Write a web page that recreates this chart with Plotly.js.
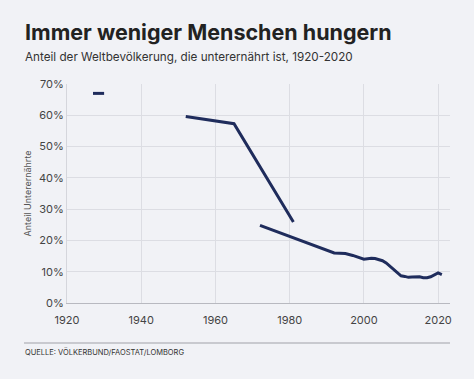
<!DOCTYPE html>
<html><head><meta charset="utf-8">
<script src="https://cdn.plot.ly/plotly-3.0.1.min.js"></script>
<style>html,body{margin:0;padding:0;background:#f1f2f6;}#c{width:474px;height:379px;}</style>
</head><body><div id="c"></div>
<script>
const yearsA = [1927, 1930];
const valsA = [67, 67];
const yearsB = [1952, 1965, 1981];
const valsB = [59.6, 57.3, 25.9];
const yearsC = [1972, 1980, 1985, 1990, 1992, 1995, 1997, 2000, 2002, 2003, 2005, 2006, 2007, 2008, 2009, 2010, 2011, 2012, 2013, 2014, 2015, 2016, 2017, 2018, 2019, 2020, 2021];
const valsC = [24.8, 21.3, 19.2, 17.0, 16.0, 15.8, 15.2, 14.0, 14.3, 14.2, 13.5, 12.8, 11.8, 11.0, 10.0, 8.7, 8.5, 8.2, 8.3, 8.4, 8.4, 8.1, 8.1, 8.4, 9.1, 9.6, 9.1];
const xTicks = [1920, 1940, 1960, 1980, 2000, 2020];
const yTicks = [0, 10, 20, 30, 40, 50, 60, 70];

const lineColor = '#1f2c5c';
const font = 'Inter, "Open Sans", sans-serif';
const L = 67, R = 450, T = 84, B = 303;
const px = x => (x - L) / (R - L);
const py = y => (B - y) / (B - T);

const mk = (x, y) => ({x: x, y: y, type: 'scatter', mode: 'lines',
  line: {color: lineColor, width: 3}, hoverinfo: 'skip', showlegend: false});

const data = [mk(yearsA, valsA), mk(yearsB, valsB), mk(yearsC, valsC)];

const layout = {
  width: 474, height: 379,
  margin: {l: L, r: 474 - R, t: T, b: 379 - B},
  paper_bgcolor: '#f1f2f6', plot_bgcolor: '#f1f2f6',
  font: {family: font, color: '#444', size: 11},
  xaxis: {range: [1920, 2023.2], tickvals: xTicks, ticktext: xTicks.map(String),
    showgrid: true, gridcolor: '#dcdde3', gridwidth: 1, zeroline: false,
    showline: true, linecolor: '#b8b9c0', linewidth: 1, ticks: '',
    ticklabelstandoff: 7,
    tickfont: {size: 11, color: '#444'}, fixedrange: true},
  yaxis: {range: [0, 70], tickvals: yTicks, ticktext: yTicks.map(v => v + '%'),
    showgrid: true, gridcolor: '#dcdde3', gridwidth: 1, zeroline: false,
    showline: true, linecolor: '#d5d6dc', linewidth: 1, ticks: '',
    tickfont: {size: 11, color: '#444'},
    title: {text: 'Anteil Unterernährte', font: {size: 9, color: '#555'}, standoff: 5},
    fixedrange: true},
  annotations: [
    {text: '<b>Immer weniger Menschen hungern</b>', xref: 'paper', yref: 'paper',
      x: px(23), y: py(32), xanchor: 'left', yanchor: 'middle', showarrow: false,
      font: {size: 21.5, color: '#222', family: font}},
    {text: 'Anteil der Weltbevölkerung, die unterernährt ist, 1920-2020', xref: 'paper', yref: 'paper',
      x: px(23), y: py(57), xanchor: 'left', yanchor: 'middle', showarrow: false,
      font: {size: 11.7, color: '#333', family: font}},
    {text: 'QUELLE: VÖLKERBUND/FAOSTAT/LOMBORG', xref: 'paper', yref: 'paper',
      x: px(23), y: py(352), xanchor: 'left', yanchor: 'middle', showarrow: false,
      font: {size: 7.5, color: '#333', family: font}}
  ],
  shapes: [
    {type: 'line', xref: 'paper', yref: 'paper', x0: px(24), x1: px(450),
      y0: py(343), y1: py(343), line: {color: '#a0a1a8', width: 1}}
  ]
};

Plotly.newPlot('c', data, layout, {displayModeBar: false, staticPlot: true});
</script></body></html>
